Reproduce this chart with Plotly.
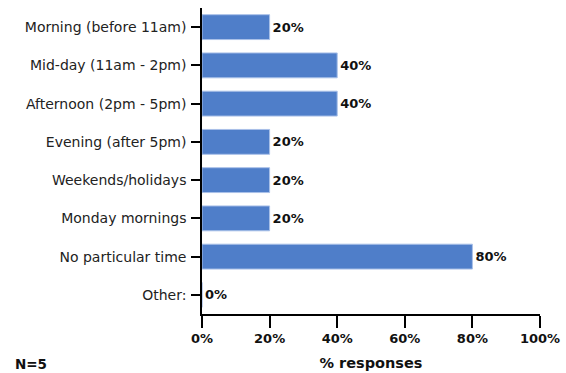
import plotly.graph_objects as go

categories = ["Morning (before 11am)", "Mid-day (11am - 2pm)", "Afternoon (2pm - 5pm)",
              "Evening (after 5pm)", "Weekends/holidays", "Monday mornings",
              "No particular time", "Other:"]
values = [20, 40, 40, 20, 20, 20, 80, 0]
tick_vals = [0, 20, 40, 60, 80, 100]
tick_text = ["0%", "20%", "40%", "60%", "80%", "100%"]

fig = go.Figure(go.Bar(
    x=values, y=categories, orientation="h",
    marker=dict(color="#4F7EC9", line=dict(color="#A9C0E8", width=1)),
    text=[f"{v}%" for v in values], textposition="outside",
    textfont=dict(family="DejaVu Sans", size=13, color="#111111"),
    texttemplate="<b>%{text}</b>", cliponaxis=False,
))

fig.update_layout(
    width=566, height=373,
    margin=dict(l=202, r=26, t=8, b=59, autoexpand=False),
    plot_bgcolor="white", paper_bgcolor="white",
    bargap=0.35, showlegend=False,
    font=dict(family="DejaVu Sans", size=11, color="#222222"),
)
fig.update_yaxes(
    autorange="reversed", showline=True, linecolor="black", linewidth=1.5,
    ticks="outside", ticklen=9, tickcolor="black", tickwidth=1.5,
    tickfont=dict(family="DejaVu Sans", size=14, color="#222222"),
    showgrid=False, ticklabelstandoff=2, automargin=False,
)
fig.update_xaxes(
    range=[0, 100], tickvals=tick_vals, ticktext=[f"<b>{t}</b>" for t in tick_text],
    showline=True, linecolor="black", linewidth=1.5,
    ticks="outside", ticklen=12, tickcolor="black", tickwidth=1.5,
    tickfont=dict(family="DejaVu Sans", size=13, color="#111111"),
    showgrid=False, zeroline=False, automargin=False,
    title=dict(text="<b>% responses</b>", font=dict(family="DejaVu Sans", size=14.5, color="#111111"), standoff=13),
)
fig.add_annotation(text="<b>N=5</b>", xref="paper", yref="paper", x=-0.56, y=-0.13,
                   xanchor="left", yanchor="top", showarrow=False,
                   font=dict(family="DejaVu Sans", size=13.5, color="#111111"))

fig.write_html("out.html", config={"displayModeBar": False},
               post_script="document.body.style.margin='0';")
